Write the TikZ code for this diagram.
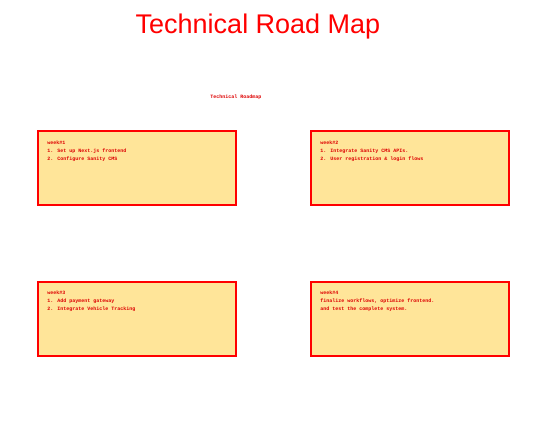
\documentclass[tikz,border=0pt]{standalone}
\usepackage{fontspec}
\setmainfont{Liberation Sans}
\newfontfamily\monof{Liberation Mono}
\definecolor{boxfill}{HTML}{FFE599}
\definecolor{txtred}{HTML}{DD0000}
\tikzset{
  weekbox/.style={draw=red, line width=1.5pt, fill=boxfill, minimum width=198pt, minimum height=74pt, inner sep=0pt},
  weektext/.style={anchor=north west, text=txtred, font=\monof\bfseries\fontsize{5pt}{7.8pt}\selectfont, align=left, inner sep=0pt},
}
\begin{document}
\begin{tikzpicture}[x=1pt,y=-1pt]
\useasboundingbox (0,0) rectangle (548,432);
\node[text=red, font=\fontsize{27pt}{30pt}\selectfont, anchor=center] (title) at (258,26.5) {Technical Road Map};
\node[text=txtred, font=\monof\bfseries\fontsize{5pt}{6pt}\selectfont] (sub) at (236,97.5) {Technical Roadmap};
\node[weekbox] (w1) at (137,168) {};
\node[weekbox] (w2) at (410,168) {};
\node[weekbox] (w3) at (137,319) {};
\node[weekbox] (w4) at (410,319) {};
\node[weektext] (t1) at ([xshift=10pt,yshift=-10.5pt]w1.north west) {week\#1\\1. Set up Next.js frontend\\2. Configure Sanity CMS};
\node[weektext] (t2) at ([xshift=10pt,yshift=-10.5pt]w2.north west) {week\#2\\1. Integrate Sanity CMS APIs.\\2. User registration \& login flows};
\node[weektext] (t3) at ([xshift=10pt,yshift=-9.5pt]w3.north west) {week\#3\\1. Add payment gateway\\2. Integrate Vehicle Tracking};
\node[weektext] (t4) at ([xshift=10pt,yshift=-9.5pt]w4.north west) {week\#4\\finalize workflows, optimize frontend.\\and test the complete system.};
\end{tikzpicture}
\end{document}
